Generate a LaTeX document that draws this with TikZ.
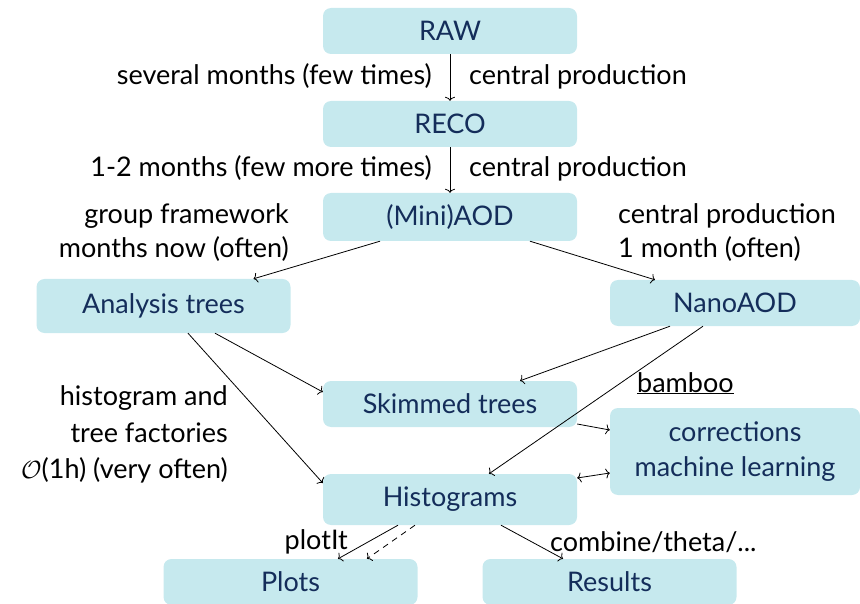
\documentclass[tikz,border=0pt]{standalone}
\usepackage{fontspec}
\setmainfont{Lato}
\usetikzlibrary{arrows.meta}
\definecolor{boxfill}{RGB}{198,233,238}
\definecolor{boxtext}{RGB}{20,45,90}
\begin{document}
\begin{tikzpicture}[x=1pt,y=-1pt,
  box/.style={fill=boxfill, text=boxtext, rounded corners=8pt, minimum width=254pt, inner sep=0pt, font=\fontsize{27}{35}\selectfont},
  lbl/.style={inner sep=0pt, font=\fontsize{27}{35}\selectfont},
  arr/.style={line width=0.8pt, -{To[length=4pt,width=10pt]}},
  arrb/.style={line width=0.8pt, {To[length=4pt,width=10pt]}-{To[length=4pt,width=10pt]}}]
\useasboundingbox (0,0) rectangle (860,604);
% boxes
\node[box, minimum height=46pt] (raw) at (450,31) {RAW};
\node[box, minimum height=46pt] (reco) at (450,124) {RECO};
\node[box, minimum height=48pt] (mini) at (450,217) {(Mini)AOD};
\node[box, minimum height=54pt] (ana) at (163.5,306) {Analysis trees};
\node[box, minimum height=46pt, minimum width=250pt] (nano) at (735,303) {NanoAOD};
\node[box, minimum height=46pt] (skim) at (450,404) {Skimmed trees};
\node[box, minimum height=87pt, minimum width=250pt, align=center] (corr) at (735,451.5) {corrections\\machine learning};
\node[box, minimum height=51pt] (hist) at (450,499.5) {Histograms};
\node[box, minimum height=46pt] (plots) at (290.5,582) {Plots};
\node[box, minimum height=46pt] (res) at (609.5,582) {Results};
% labels
\node[lbl, anchor=base east] (t1) at (432,85) {several months (few times)};
\node[lbl, anchor=base west] (t2) at (469,85) {central production};
\node[lbl, anchor=base east] (t3) at (432,177) {1-2 months (few more times)};
\node[lbl, anchor=base west] (t4) at (469,177) {central production};
\node[lbl, anchor=base east] (t5) at (289,224) {group framework};
\node[lbl, anchor=base east] (t6) at (289,258) {months now (often)};
\node[lbl, anchor=base west] (t7) at (618,224) {central production};
\node[lbl, anchor=base west] (t8) at (618,258) {1 month (often)};
\node[lbl, anchor=base east] (t9) at (228,405) {histogram and};
\node[lbl, anchor=base east] (t10) at (228,442) {tree factories};
\node[lbl, anchor=base east] (t11) at (228,478) {$\mathcal{O}$(1h) (very often)};
\node[lbl, anchor=base west] (t12) at (637,392) {\underline{bamboo}};
\node[lbl, anchor=base east] (t13) at (348,549) {plotIt};
\node[lbl, anchor=base west] (t14) at (550,551) {combine/theta/...};
% connectors
\draw[arr] (raw.south) -- (reco.north);
\draw[arr] (reco.south) -- (mini.north);
\draw[arr] ([xshift=-70pt]mini.south) -- ([xshift=90pt]ana.north);
\draw[arr] ([xshift=80pt]mini.south) -- ([xshift=-80pt]nano.north);
\draw[arr] ([xshift=51.5pt]ana.south) -- ([yshift=12pt]skim.west);
\draw[arr] ([xshift=24.5pt]ana.south) -- ([yshift=16.5pt]hist.west);
\draw[arr] ([xshift=-65pt]nano.south) -- ([xshift=70pt]skim.north);
\draw[arr] ([xshift=-32pt]nano.south) -- ([xshift=39pt]hist.north);
\draw[arr] ([yshift=-20pt]skim.east) -- ([yshift=21.5pt]corr.west);
\draw[arrb] ([yshift=21.5pt]hist.east) -- ([yshift=-21.5pt]corr.west);
\draw[arr] ([xshift=-52pt]hist.south) -- ([xshift=47.5pt]plots.north);
\draw[arr, dashed, dash pattern=on 6pt off 5pt] ([xshift=-35pt]hist.south) -- ([xshift=76.5pt]plots.north);
\draw[arr] ([xshift=51pt]hist.south) -- ([xshift=-46.5pt]res.north);
\end{tikzpicture}
\end{document}
